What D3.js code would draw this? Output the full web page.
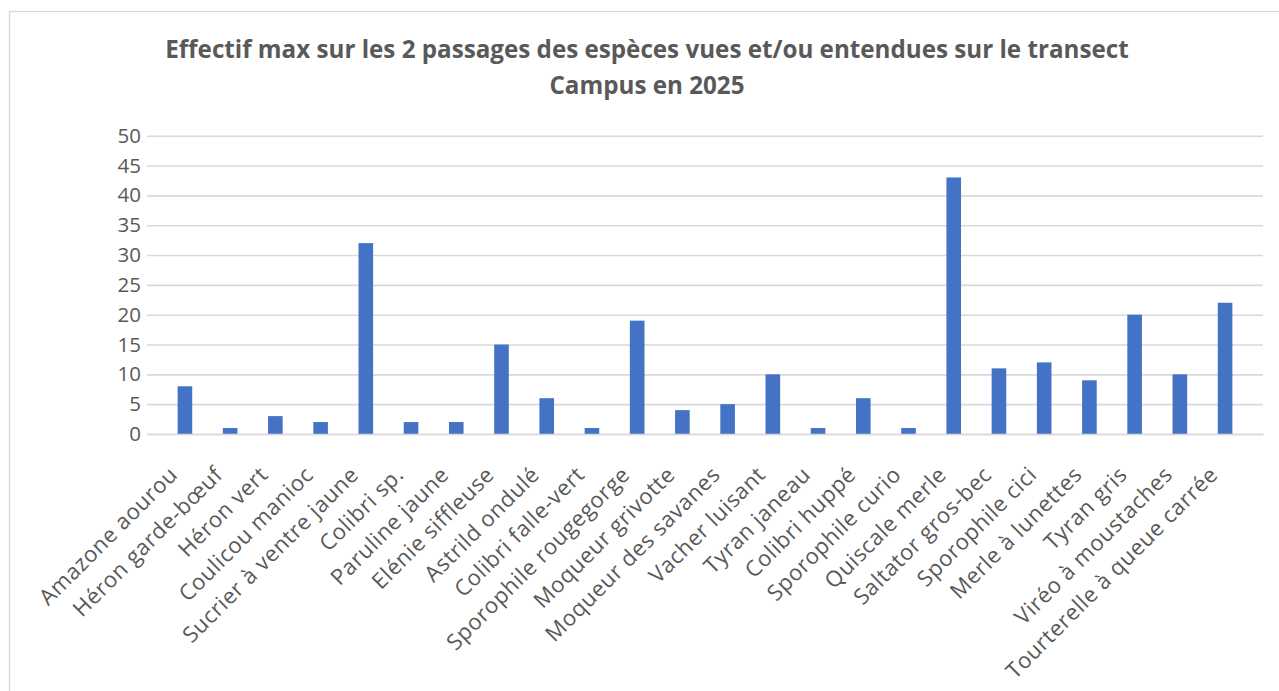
<!DOCTYPE html>
<html>
<head>
<meta charset="utf-8">
<script src="https://cdn.jsdelivr.net/npm/d3@7"></script>
<style>
  html, body { margin: 0; padding: 0; background: #fff; }
  svg { display: block; }
  text { font-family: "Open Sans", "DejaVu Sans", sans-serif; fill: #595959; }
</style>
</head>
<body>
<svg id="chart" width="1279" height="691"></svg>
<script>
const categories = [
  "Amazone aourou", "Héron garde-bœuf", "Héron vert", "Coulicou manioc",
  "Sucrier à ventre jaune", "Colibri sp.", "Paruline jaune", "Elénie siffleuse",
  "Astrild ondulé", "Colibri falle-vert", "Sporophile rougegorge", "Moqueur grivotte",
  "Moqueur des savanes", "Vacher luisant", "Tyran janeau", "Colibri huppé",
  "Sporophile curio", "Quiscale merle", "Saltator gros-bec", "Sporophile cici",
  "Merle à lunettes", "Tyran gris", "Viréo à moustaches", "Tourterelle à queue carrée"
];
const values = [8, 1, 3, 2, 32, 2, 2, 15, 6, 1, 19, 4, 5, 10, 1, 6, 1, 43, 11, 12, 9, 20, 10, 22];
const yTicks = [0, 5, 10, 15, 20, 25, 30, 35, 40, 45, 50];
const titleLines = [
  "Effectif max sur les 2 passages des espèces vues et/ou entendues sur le transect",
  "Campus en 2025"
];

const svg = d3.select("#chart");
const W = 1279, H = 691;
const plot = { left: 147, right: 1263, top: 135.7, bottom: 434 };

svg.append("rect").attr("width", W).attr("height", H).attr("fill", "#fff");
// chart border
svg.append("rect")
  .attr("x", 9.5).attr("y", 11.5)
  .attr("width", W + 20).attr("height", H + 20)
  .attr("fill", "none").attr("stroke", "#d9d9d9").attr("stroke-width", 1.3);

// title
svg.append("g").selectAll("text").data(titleLines).join("text")
  .attr("x", 647)
  .attr("y", (d, i) => 58 + i * 36)
  .attr("text-anchor", "middle")
  .attr("font-weight", "bold")
  .attr("font-size", 24.2)
  .text(d => d);

const x = d3.scaleBand().domain(categories).range([plot.left, plot.right]).padding(0.677);
const y = d3.scaleLinear().domain([0, 50]).range([plot.bottom, plot.top]);

// gridlines
const yAxis = d3.axisLeft(y).tickValues(yTicks).tickSize(-(plot.right - plot.left)).tickPadding(8);
const gy = svg.append("g").attr("transform", `translate(${plot.left},0)`).call(yAxis);
gy.select(".domain").remove();
gy.selectAll(".tick line").attr("stroke", "#d9d9d9").attr("stroke-width", 1.6);
gy.selectAll(".tick text")
  .attr("x", -6)
  .attr("font-size", 20.5)
  .attr("fill", "#595959")
  .style("font-family", "'Open Sans', sans-serif");

// bars
svg.append("g").selectAll("rect").data(categories).join("rect")
  .attr("x", d => x(d))
  .attr("width", x.bandwidth())
  .attr("y", (d, i) => y(values[i]))
  .attr("height", (d, i) => y(0) - y(values[i]))
  .attr("fill", "#4472c4");

// x axis
const xAxis = d3.axisBottom(x).tickSize(0).tickPadding(0);
const gx = svg.append("g").attr("transform", `translate(0,${plot.bottom})`).call(xAxis);
gx.select(".domain").attr("stroke", "#d9d9d9").attr("stroke-width", 1.6);
gx.selectAll(".tick text")
  .attr("text-anchor", "end")
  .attr("dy", 0)
  .attr("y", 0)
  .attr("transform", "translate(-6,42) rotate(-45)")
  .attr("font-size", 22)
  .attr("letter-spacing", 0.6)
  .attr("fill", "#595959")
  .style("font-family", "'Open Sans', sans-serif");
</script>
</body>
</html>
